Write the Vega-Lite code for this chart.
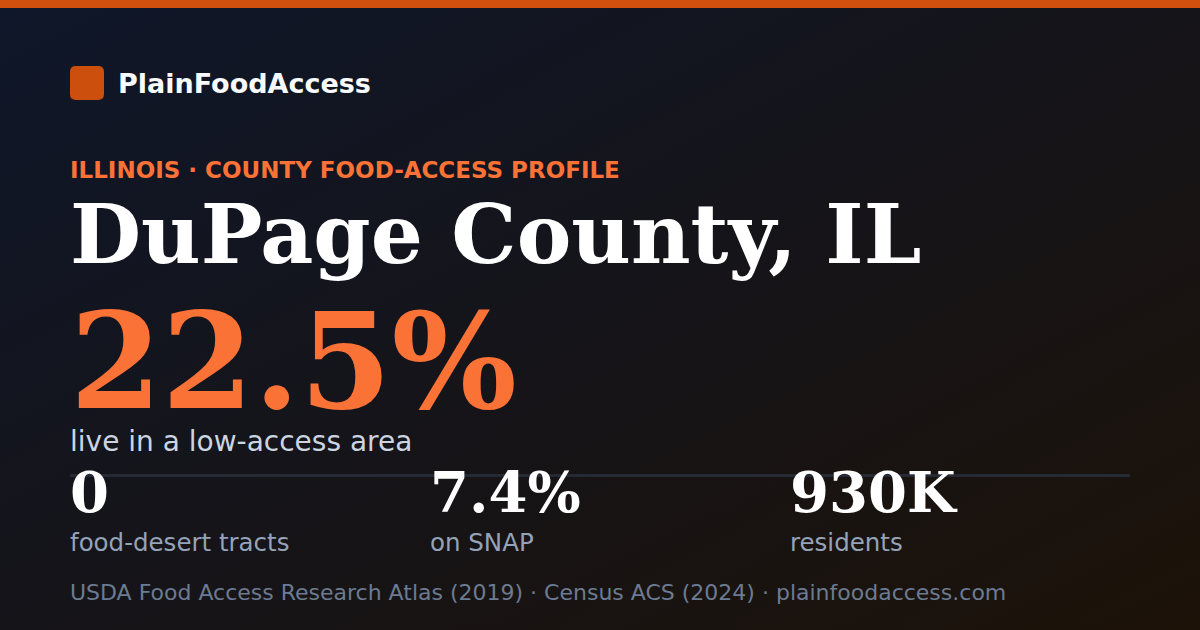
{
  "$schema": "https://vega.github.io/schema/vega-lite/v6.json",
  "width": 1200,
  "height": 630,
  "autosize": {"type": "fit", "contains": "padding"},
  "padding": 0,
  "background": "#141419",
  "config": {"view": {"stroke": null}},
  "datasets": {
    "card": [
      {"role": "brand", "col": 0, "line": 1, "text": "PlainFoodAccess"},
      {"role": "kicker", "col": 0, "line": 2, "text": "ILLINOIS · COUNTY FOOD-ACCESS PROFILE"},
      {"role": "title", "col": 0, "line": 3, "text": "DuPage County, IL"},
      {"role": "headline", "col": 0, "line": 4, "text": "22.5%"},
      {"role": "caption", "col": 0, "line": 5, "text": "live in a low-access area"},
      {"role": "stat", "col": 0, "line": 7, "text": "0"},
      {"role": "stat", "col": 1, "line": 7, "text": "7.4%"},
      {"role": "stat", "col": 2, "line": 7, "text": "930K"},
      {"role": "statLabel", "col": 0, "line": 8, "text": "food-desert tracts"},
      {"role": "statLabel", "col": 1, "line": 8, "text": "on SNAP"},
      {"role": "statLabel", "col": 2, "line": 8, "text": "residents"},
      {"role": "source", "col": 0, "line": 9, "text": "USDA Food Access Research Atlas (2019) · Census ACS (2024) · plainfoodaccess.com"}
    ]
  },
  "data": {"name": "card"},
  "layer": [
    {
      "mark": {
        "type": "rect",
        "color": {
          "gradient": "linear",
          "x1": 0, "y1": 0, "x2": 1, "y2": 1,
          "stops": [
            {"offset": 0, "color": "#0f172a"},
            {"offset": 0.5, "color": "#151419"},
            {"offset": 1, "color": "#1c1208"}
          ]
        }
      },
      "encoding": {}
    },
    {
      "mark": {"type": "rect", "color": "#d1500d"},
      "encoding": {
        "y": {"datum": -1, "type": "quantitative", "axis": null,
              "scale": {"domain": [-1, 0, 1, 2, 3, 4, 5, 6, 7, 8, 9], "range": [0, 8, 93, 178, 263, 408, 451, 475.5, 512, 551, 600], "nice": false, "zero": false}},
        "y2": {"datum": 0}
      }
    },
    {
      "mark": {"type": "rule", "color": "#262a34", "strokeWidth": 2},
      "encoding": {
        "x": {"datum": 0, "type": "quantitative", "axis": null,
              "scale": {"domain": [0, 1, 2, 3], "range": [70, 430, 790, 1130], "nice": false, "zero": false}},
        "x2": {"datum": 3},
        "y": {"datum": 6, "type": "quantitative", "axis": null,
              "scale": {"domain": [-1, 0, 1, 2, 3, 4, 5, 6, 7, 8, 9], "range": [0, 8, 93, 178, 263, 408, 451, 475.5, 512, 551, 600], "nice": false, "zero": false}}
      }
    },
    {
      "encoding": {
        "x": {"field": "col", "type": "quantitative", "axis": null,
              "scale": {"domain": [0, 1, 2, 3], "range": [70, 430, 790, 1130], "nice": false, "zero": false}},
        "y": {"field": "line", "type": "quantitative", "axis": null,
              "scale": {"domain": [-1, 0, 1, 2, 3, 4, 5, 6, 7, 8, 9], "range": [0, 8, 93, 178, 263, 408, 451, 475.5, 512, 551, 600], "nice": false, "zero": false}},
        "text": {"field": "text", "type": "nominal"}
      },
      "layer": [
        {
          "transform": [{"filter": "datum.role == 'brand'"}],
          "mark": {
            "type": "point", "filled": true, "opacity": 1, "color": "#cd4f0e", "size": 1156,
            "shape": "M -0.65 -1 L 0.65 -1 Q 1 -1 1 -0.65 L 1 0.65 Q 1 1 0.65 1 L -0.65 1 Q -1 1 -1 0.65 L -1 -0.65 Q -1 -1 -0.65 -1 Z",
            "xOffset": 17, "yOffset": -10
          },
          "encoding": {"text": null}
        },
        {
          "transform": [{"filter": "datum.role == 'brand'"}],
          "mark": {"type": "text", "align": "left", "baseline": "alphabetic", "dx": 48,
                   "font": "DejaVu Sans", "fontWeight": "bold", "fontSize": 27, "color": "#f8fafc"}
        },
        {
          "transform": [{"filter": "datum.role == 'kicker'"}],
          "mark": {"type": "text", "align": "left", "baseline": "alphabetic",
                   "font": "DejaVu Sans", "fontWeight": "bold", "fontSize": 23, "color": "#fb7237"}
        },
        {
          "transform": [{"filter": "datum.role == 'title'"}],
          "mark": {"type": "text", "align": "left", "baseline": "alphabetic",
                   "font": "DejaVu Serif", "fontWeight": "bold", "fontSize": 82, "color": "#ffffff"}
        },
        {
          "transform": [{"filter": "datum.role == 'headline'"}],
          "mark": {"type": "text", "align": "left", "baseline": "alphabetic",
                   "font": "DejaVu Serif", "fontWeight": "bold", "fontSize": 132, "color": "#fb7237"}
        },
        {
          "transform": [{"filter": "datum.role == 'caption'"}],
          "mark": {"type": "text", "align": "left", "baseline": "alphabetic",
                   "font": "DejaVu Sans", "fontSize": 28, "color": "#cbd5e1"}
        },
        {
          "transform": [{"filter": "datum.role == 'stat'"}],
          "mark": {"type": "text", "align": "left", "baseline": "alphabetic",
                   "font": "DejaVu Serif", "fontWeight": "bold", "fontSize": 56, "color": "#ffffff"}
        },
        {
          "transform": [{"filter": "datum.role == 'statLabel'"}],
          "mark": {"type": "text", "align": "left", "baseline": "alphabetic",
                   "font": "DejaVu Sans", "fontSize": 24.5, "color": "#94a3b8"}
        },
        {
          "transform": [{"filter": "datum.role == 'source'"}],
          "mark": {"type": "text", "align": "left", "baseline": "alphabetic",
                   "font": "DejaVu Sans", "fontSize": 22, "color": "#6b7b92"}
        }
      ]
    }
  ]
}
